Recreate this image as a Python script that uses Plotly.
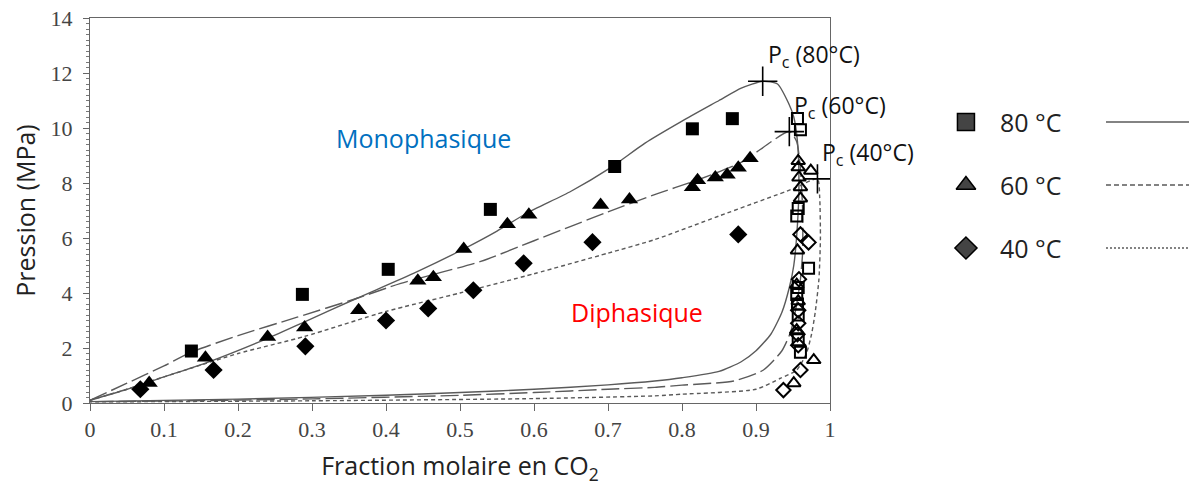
import plotly.graph_objects as go

# ---------------------------------------------------------------------------
# Données (fraction molaire CO2, pression en MPa)
# ---------------------------------------------------------------------------

# Points expérimentaux - courbe de bulle (symboles pleins)
x80_bulle_exp = [0.137, 0.287, 0.403, 0.541, 0.709, 0.814, 0.868]
p80_bulle_exp = [1.89, 3.95, 4.86, 7.04, 8.6, 9.97, 10.34]

x60_bulle_exp = [0.080, 0.156, 0.240, 0.290, 0.363, 0.443, 0.464, 0.505, 0.564,
                 0.593, 0.690, 0.729, 0.814, 0.821, 0.845, 0.861, 0.876, 0.892]
p60_bulle_exp = [0.73, 1.65, 2.4, 2.75, 3.37, 4.45, 4.57, 5.6, 6.5,
                 6.85, 7.2, 7.4, 7.85, 8.1, 8.2, 8.3, 8.55, 8.9]

x40_bulle_exp = [0.068, 0.167, 0.291, 0.400, 0.457, 0.518, 0.586, 0.679, 0.876]
p40_bulle_exp = [0.5, 1.2, 2.06, 3.0, 3.44, 4.1, 5.08, 5.85, 6.13]

# Points expérimentaux - courbe de rosée (symboles vides)
x80_rosee_exp = [0.956, 0.960, 0.957, 0.955, 0.971, 0.957, 0.955, 0.956, 0.957, 0.957, 0.960]
p80_rosee_exp = [10.35, 9.94, 7.07, 6.8, 4.9, 4.2, 3.95, 3.6, 3.2, 2.3, 1.85]

x60_rosee_exp = [0.957, 0.957, 0.974, 0.958, 0.960, 0.960, 0.956, 0.955, 0.957, 0.955, 0.978, 0.951]
p60_rosee_exp = [8.8, 8.57, 8.45, 8.2, 7.85, 7.44, 5.55, 4.3, 3.7, 2.65, 1.56, 0.72]

x40_rosee_exp = [0.960, 0.971, 0.958, 0.957, 0.957, 0.956, 0.957, 0.960, 0.937]
p40_rosee_exp = [6.13, 5.84, 4.5, 3.37, 2.9, 2.5, 2.1, 1.2, 0.47]

# Points critiques
x_crit = [0.909, 0.945, 0.983]
p_crit = [11.7, 9.87, 8.15]
crit_labels = ["P<sub>c</sub> (80°C)", "P<sub>c</sub> (60°C)", "P<sub>c</sub> (40°C)"]

# Courbes du modèle : bulle puis rosée
x80_bulle = [0, 0.05, 0.1, 0.156, 0.24, 0.29, 0.36, 0.44, 0.505, 0.55, 0.59,
             0.65, 0.703, 0.75, 0.8, 0.85, 0.88, 0.909]
p80_bulle = [0.1, 0.5, 0.95, 1.45, 2.35, 2.95, 3.8, 4.75, 5.6, 6.25, 6.9,
             7.7, 8.55, 9.45, 10.25, 11.0, 11.45, 11.7]
x80_rosee = [0.929, 0.944, 0.951, 0.956, 0.958, 0.956, 0.951, 0.945, 0.935, 0.92,
             0.9, 0.88, 0.85, 0.8, 0.763, 0.7, 0.6, 0.5, 0.4, 0.2, 0]
p80_rosee = [11.6, 10.9, 10.4, 9.5, 8.0, 6.5, 5.0, 4.2, 3.3, 2.5,
             1.9, 1.5, 1.15, 0.92, 0.8, 0.66, 0.5, 0.38, 0.28, 0.14, 0.05]

x60_bulle = [0, 0.05, 0.1, 0.137, 0.2, 0.28, 0.36, 0.42, 0.528, 0.6, 0.7, 0.763, 0.82, 0.88, 0.945]
p60_bulle = [0.1, 0.72, 1.35, 1.85, 2.45, 3.12, 3.8, 4.35, 5.15, 5.9, 6.95, 7.58, 8.1, 8.75, 9.87]
x60_rosee = [0.955, 0.96, 0.963, 0.963, 0.96, 0.955, 0.947, 0.935, 0.91, 0.87,
             0.8, 0.763, 0.7, 0.6, 0.5, 0.3, 0.1, 0]
p60_rosee = [9.5, 8.5, 7.0, 5.5, 4.5, 3.6, 2.6, 1.9, 1.2, 0.8,
             0.65, 0.57, 0.5, 0.38, 0.28, 0.15, 0.07, 0.05]

x40_bulle = [0, 0.05, 0.1, 0.137, 0.2, 0.29, 0.4, 0.5, 0.6, 0.7, 0.763, 0.85, 0.951, 0.983]
p40_bulle = [0.1, 0.5, 0.95, 1.27, 1.8, 2.42, 3.33, 4.0, 4.7, 5.45, 5.94, 6.8, 7.8, 8.15]
x40_rosee = [0.986, 0.987, 0.985, 0.98, 0.975, 0.968, 0.955, 0.933, 0.9, 0.8, 0.763, 0.6, 0.3, 0]
p40_rosee = [7.5, 6.0, 4.5, 3.3, 2.5, 1.8, 1.2, 0.9, 0.5, 0.32, 0.26, 0.16, 0.08, 0.04]

# Légende
leg_labels = ["80 °C", "60 °C", "40 °C"]
x_ticks = [0, 0.1, 0.2, 0.3, 0.4, 0.5, 0.6, 0.7, 0.8, 0.9, 1]
x_ticktext = ["0", "0.1", "0.2", "0.3", "0.4", "0.5", "0.6", "0.7", "0.8", "0.9", "1"]

# ---------------------------------------------------------------------------
# Figure
# ---------------------------------------------------------------------------
LINE_COL = "#5a5a5a"
styles = {
    "80 °C": dict(dash="solid", sym="square"),
    "60 °C": dict(dash="18px,5px", sym="triangle-up"),
    "40 °C": dict(dash="4px,3px", sym="diamond"),
}
dash_leg = {"80 °C": "solid", "60 °C": "5px,3px", "40 °C": "2px,2px"}

fig = go.Figure()

courbes = [
    ("80 °C", x80_bulle + x80_rosee, p80_bulle + p80_rosee),
    ("60 °C", x60_bulle + x60_rosee, p60_bulle + p60_rosee),
    ("40 °C", x40_bulle + x40_rosee, p40_bulle + p40_rosee),
]
for nom, xs, ps in courbes:
    fig.add_trace(go.Scatter(
        x=xs, y=ps, mode="lines",
        line=dict(color=LINE_COL, width=1.4, dash=styles[nom]["dash"], shape="spline", smoothing=0.6),
        showlegend=False, hoverinfo="skip"))

points = [
    ("80 °C", x80_bulle_exp, p80_bulle_exp, x80_rosee_exp, p80_rosee_exp, 13, 11),
    ("60 °C", x60_bulle_exp, p60_bulle_exp, x60_rosee_exp, p60_rosee_exp, 15, 12),
    ("40 °C", x40_bulle_exp, p40_bulle_exp, x40_rosee_exp, p40_rosee_exp, 14, 11),
]
for nom, xb, pb, xr, pr, s_plein, s_vide in points:
    sym = styles[nom]["sym"]
    fig.add_trace(go.Scatter(
        x=xb, y=pb, mode="markers", showlegend=False,
        marker=dict(symbol=sym, size=s_plein, color="black", line=dict(width=0))))
    fig.add_trace(go.Scatter(
        x=xr, y=pr, mode="markers", showlegend=False,
        marker=dict(symbol=sym + "-open", size=s_vide, color="black", line=dict(width=2, color="black"))))

fig.add_trace(go.Scatter(
    x=x_crit, y=p_crit, mode="markers", showlegend=False,
    marker=dict(symbol="cross-thin-open", size=21, color="black", line=dict(width=1.6, color="black"))))

for xc, pc, lab in zip(x_crit, p_crit, crit_labels):
    fig.add_annotation(x=xc, y=pc, text=lab, showarrow=False, xanchor="left", yanchor="bottom",
                       xshift=3, yshift=6, font=dict(family="Open Sans", size=23, color="#111"))

fig.add_annotation(x=0.45, y=9.64, text="Monophasique", showarrow=False,
                   font=dict(family="Open Sans", size=25, color="#0070C0"))
fig.add_annotation(x=0.739, y=3.3, text="Diphasique", showarrow=False,
                   font=dict(family="Open Sans", size=25, color="#FF0000"))

# Légende manuelle (axes auxiliaires, unités = pixels)
leg_rows = [104, 167, 230]
for lab, yr in zip(leg_labels, leg_rows):
    fig.add_trace(go.Scatter(
        x=[26], y=[yr], xaxis="x2", yaxis="y2", mode="markers", showlegend=False,
        marker=dict(symbol=styles[lab]["sym"], size=17, color="#444", line=dict(width=1.5, color="black"))))
    fig.add_trace(go.Scatter(
        x=[166, 257], y=[yr, yr], xaxis="x2", yaxis="y2", mode="lines", showlegend=False,
        line=dict(color=LINE_COL, width=1.3, dash=dash_leg[lab])))
    fig.add_annotation(x=58, y=yr, xref="x2", yref="y2", text=lab, showarrow=False, xanchor="left",
                       font=dict(family="Open Sans", size=25, color="#222"))

axis_common = dict(showline=True, linecolor="#666", linewidth=1, mirror=True, showgrid=False,
                   zeroline=False, ticks="outside", tickcolor="#666", automargin=False,
                   ticklabeloverflow="allow",
                   tickfont=dict(family="Liberation Serif", size=22, color="#444"))

# la page HTML ajoute une marge de 8 px : figure réduite d'autant
fig.update_layout(
    width=1189, height=482,
    margin=dict(l=82, r=0, t=10, b=87, autoexpand=False),
    plot_bgcolor="white", paper_bgcolor="white",
    xaxis=dict(domain=[0, 0.6685], range=[0, 1], tickvals=x_ticks, ticktext=x_ticktext, ticklen=7,
               title=dict(text="Fraction molaire en CO<sub>2</sub>", standoff=16,
                          font=dict(family="Open Sans", size=25, color="#222")),
               **axis_common),
    yaxis=dict(range=[0, 14], dtick=2, ticklen=6, ticklabelstandoff=6,
               minor=dict(dtick=0.2, ticks="outside", ticklen=3, tickcolor="#777"),
               title=dict(text="Pression (MPa)", standoff=12,
                          font=dict(family="Open Sans", size=25, color="#222")),
               **axis_common),
    xaxis2=dict(domain=[0.7678, 1], range=[0, 257], visible=False, anchor="y2"),
    yaxis2=dict(domain=[0, 1], range=[385, 0], visible=False, anchor="x2"),
)

fig.write_html("out.html")
